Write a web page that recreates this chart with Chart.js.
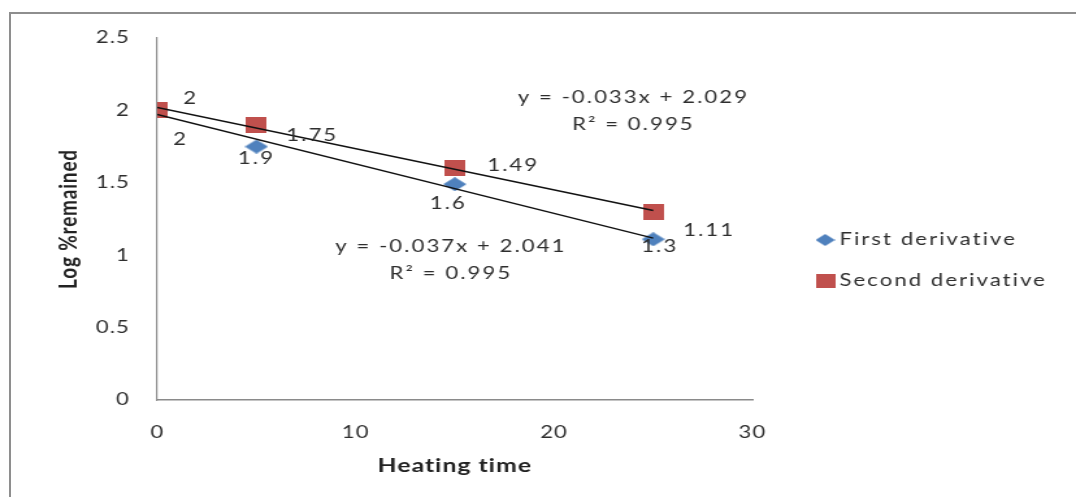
<!DOCTYPE html>
<html><head><meta charset="utf-8">
<script src="https://cdn.jsdelivr.net/npm/chart.js@4/dist/chart.umd.min.js"></script>
<style>
html,body{margin:0;padding:0;background:#fff;overflow:hidden;width:1076px;height:497px;}
#frame{position:absolute;left:9px;top:12px;width:1100px;height:520px;border-left:2px solid #8e8e8e;border-top:2px solid #8e8e8e;}
#c{position:absolute;left:0;top:0;}
</style></head><body>
<div id="frame"></div>
<canvas id="c" width="828" height="497" style="width:1076px;height:497px;"></canvas>
<script>
// ---- data ----
const heatingTime = [0, 5, 15, 25];
const firstDerivative = [2, 1.75, 1.49, 1.11];
const secondDerivative = [2, 1.9, 1.6, 1.3];
const xTicks = [0, 10, 20, 30];
const yTicks = [0, 0.5, 1, 1.5, 2, 2.5];
const seriesNames = ['First derivative', 'Second derivative'];
const eqFirst = ['y = -0.037x + 2.041', 'R\u00B2 = 0.995'];
const eqSecond = ['y = -0.033x + 2.029', 'R\u00B2 = 0.995'];
const xTitle = 'Heating time';
const yTitle = 'Log %remained';

// ---- styles / placement ----
const BLUE = '#4f81bd', RED = '#c0504d', TXT = '#2e2e2e';
const FONT = 'Lato';
const firstLabelDx = [20, 23, 25, 23];
const firstLabelDy = [-12, -11, -19, -9];
const secondLabelDx = [18, 0, -5, 5];
const secondLabelDy = [29, 34, 35, 35];
const eqPos = [{x: 14.8, y: 1.06}, {x: 24.0, y: 2.09}];

function mk(w, h, color, shape) {
  const c = document.createElement('canvas');
  c.width = w; c.height = h;
  const g = c.getContext('2d');
  g.fillStyle = color;
  if (shape === 'diamond') {
    g.beginPath(); g.moveTo(w/2, 0); g.lineTo(w, h/2); g.lineTo(w/2, h); g.lineTo(0, h/2); g.closePath(); g.fill();
  } else { g.fillRect(0, 0, w, h); }
  return c;
}
const diamondImg = mk(18, 14, BLUE, 'diamond');
const squareImg = mk(16, 16, RED, 'rect');
const diamondLeg = mk(15, 12, BLUE, 'diamond');
const squareLeg = mk(15, 14, RED, 'rect');

function fit(xs, ys) {
  const n = xs.length;
  const mx = xs.reduce((a, b) => a + b, 0) / n;
  const my = ys.reduce((a, b) => a + b, 0) / n;
  let sxy = 0, sxx = 0;
  for (let i = 0; i < n; i++) { sxy += (xs[i]-mx)*(ys[i]-my); sxx += (xs[i]-mx)**2; }
  const m = sxy / sxx;
  return {m, b: my - m*mx};
}
function trend(xs, ys) {
  const f = fit(xs, ys);
  const a = xs[0], z = xs[xs.length-1];
  return [{x: a, y: f.b + f.m*a}, {x: z, y: f.b + f.m*z}];
}
const pts = ys => heatingTime.map((x, i) => ({x, y: ys[i]}));

const spacing = {
  id: 'spacing',
  beforeDraw(chart) { chart.ctx.letterSpacing = '0.8px'; }
};

const overlay = {
  id: 'overlay',
  afterDatasetsDraw(chart) {
    const ctx = chart.ctx, sx = chart.scales.x, sy = chart.scales.y;
    ctx.save();
    ctx.letterSpacing = '1.6px';
    ctx.fillStyle = TXT;
    ctx.font = `17px ${FONT}`;
    ctx.textBaseline = 'middle';
    ctx.textAlign = 'left';
    firstDerivative.forEach((v, i) => {
      ctx.fillText(String(v), sx.getPixelForValue(heatingTime[i]) + firstLabelDx[i], sy.getPixelForValue(v) + firstLabelDy[i]);
    });
    ctx.textAlign = 'center';
    secondDerivative.forEach((v, i) => {
      ctx.fillText(String(v), sx.getPixelForValue(heatingTime[i]) + secondLabelDx[i], sy.getPixelForValue(v) + secondLabelDy[i]);
    });
    [eqFirst, eqSecond].forEach((eq, k) => {
      const px = sx.getPixelForValue(eqPos[k].x), py = sy.getPixelForValue(eqPos[k].y);
      ctx.fillText(eq[0], px, py);
      ctx.fillText(eq[1], px, py + 27);
    });
    // legend
    ctx.textAlign = 'left';
    const lx = 635, lt = 646;
    const legY = [240, 281];
    ctx.drawImage(diamondLeg, lx - diamondLeg.width/2, legY[0] - diamondLeg.height/2);
    ctx.drawImage(squareLeg, lx - squareLeg.width/2, legY[1] - squareLeg.height/2);
    ctx.fillText(seriesNames[0], lt, legY[0]);
    ctx.fillText(seriesNames[1], lt, legY[1]);
    ctx.restore();
  }
};

new Chart(document.getElementById('c'), {
  type: 'scatter',
  data: {
    datasets: [
      {label: 'trend2', data: trend(heatingTime, secondDerivative), showLine: true, borderColor: '#111', borderWidth: 1.4, pointRadius: 0, order: 0},
      {label: 'trend1', data: trend(heatingTime, firstDerivative), showLine: true, borderColor: '#111', borderWidth: 1.4, pointRadius: 0, order: 1},
      {label: seriesNames[1], data: pts(secondDerivative), pointStyle: squareImg, backgroundColor: RED, borderColor: RED, order: 2},
      {label: seriesNames[0], data: pts(firstDerivative), pointStyle: diamondImg, backgroundColor: BLUE, borderColor: BLUE, order: 3}
    ]
  },
  options: {
    responsive: false,
    animation: false,
    devicePixelRatio: 1,
    layout: {padding: {top: 38, right: 249, bottom: 0, left: 0}},
    plugins: {legend: {display: false}, tooltip: {enabled: false}},
    scales: {
      x: {
        type: 'linear', min: 0, max: 30,
        afterFit(s) { s.height = 97; },
        afterBuildTicks(s) { s.ticks = xTicks.map(v => ({value: v})); },
        grid: {display: false, drawTicks: false},
        border: {display: true, color: '#8a8a8a', width: 1.5},
        ticks: {padding: 22, color: TXT, font: {family: FONT, size: 17}, callback: v => String(v)},
        title: {display: true, text: xTitle, color: '#222', font: {family: FONT, size: 19, weight: 'bold'}, padding: {top: 0, bottom: 20}}
      },
      y: {
        type: 'linear', min: 0, max: 2.5,
        afterFit(s) { s.width = 121; },
        afterBuildTicks(s) { s.ticks = yTicks.map(v => ({value: v})); },
        grid: {display: false, drawTicks: false},
        border: {display: true, color: '#8a8a8a', width: 1.2},
        ticks: {padding: 21, color: TXT, font: {family: FONT, size: 17}, callback: v => String(v)},
        title: {display: true, text: yTitle, color: '#222', font: {family: FONT, size: 19, weight: 'bold'}, padding: {top: 41, bottom: 0}}
      }
    }
  },
  plugins: [spacing, overlay]
});
</script>
</body></html>
